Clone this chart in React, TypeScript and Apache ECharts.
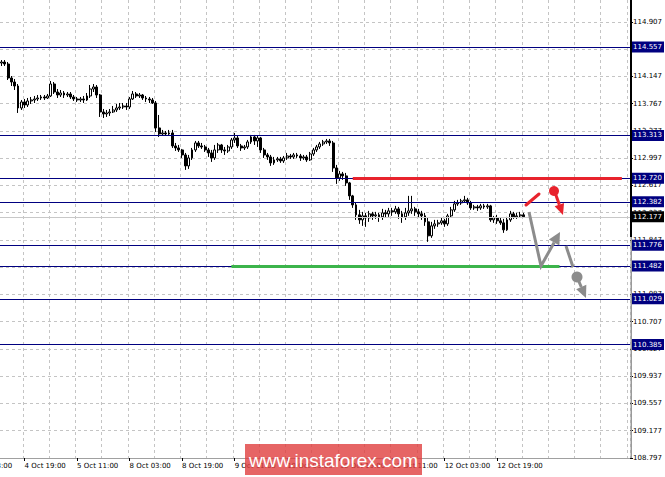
import React, { useEffect, useRef } from "react";
import * as echarts from "echarts";

// ---------- data ----------
const BASE = 108.797; // lowest labelled price tick
const STEP = 0.381875; // price distance between grid lines

const yTickLabels = [
  "108.797", "109.177", "109.557", "109.937", "110.327", "110.707", "111.087", "111.467",
  "111.847", "112.237", "112.617", "112.997", "113.377", "113.767", "114.147", "114.527", "114.907",
];

const xTickLabels = [
  "4 Oct 19:00", "5 Oct 11:00", "8 Oct 03:00", "8 Oct 19:00", "9 Oct 11:00",
  "10 Oct 03:00", "10 Oct 19:00", "11 Oct 11:00", "12 Oct 03:00", "12 Oct 19:00",
];

const levels = [114.557, 113.313, 112.72, 112.382, 111.776, 111.482, 111.029, 110.385];
const currentPrice = 112.177;
const resistance = 112.72;
const support = 111.482;

// [open, close, low, high]
const candles: number[][] = [
  [114.332, 114.346, 114.29, 114.374],
  [114.346, 114.318, 114.29, 114.374],
  [114.318, 114.122, 114.094, 114.346],
  [114.122, 114.066, 114.01, 114.15],
  [114.066, 114.01, 113.954, 114.108],
  [114.01, 113.702, 113.632, 114.038],
  [113.702, 113.786, 113.674, 113.814],
  [113.786, 113.744, 113.702, 113.828],
  [113.744, 113.8, 113.716, 113.842],
  [113.8, 113.814, 113.758, 113.856],
  [113.814, 113.828, 113.772, 113.87],
  [113.828, 113.842, 113.8, 113.884],
  [113.842, 113.856, 113.814, 113.884],
  [113.856, 113.842, 113.814, 113.884],
  [113.842, 113.87, 113.828, 113.898],
  [113.87, 114.038, 113.856, 114.08],
  [114.038, 113.926, 113.898, 114.066],
  [113.926, 113.884, 113.842, 113.968],
  [113.884, 113.912, 113.856, 113.954],
  [113.912, 113.884, 113.842, 113.94],
  [113.884, 113.898, 113.856, 113.926],
  [113.898, 113.856, 113.828, 113.926],
  [113.856, 113.828, 113.8, 113.884],
  [113.828, 113.814, 113.786, 113.856],
  [113.814, 113.828, 113.786, 113.856],
  [113.828, 113.814, 113.772, 113.87],
  [113.814, 113.87, 113.8, 113.912],
  [113.87, 113.968, 113.842, 114.024],
  [113.968, 113.996, 113.926, 114.038],
  [113.996, 113.884, 113.842, 114.024],
  [113.884, 113.646, 113.576, 113.898],
  [113.646, 113.618, 113.562, 113.688],
  [113.618, 113.632, 113.576, 113.674],
  [113.632, 113.646, 113.59, 113.688],
  [113.646, 113.674, 113.632, 113.73],
  [113.674, 113.702, 113.646, 113.758],
  [113.702, 113.716, 113.674, 113.772],
  [113.716, 113.73, 113.688, 113.772],
  [113.73, 113.716, 113.674, 113.772],
  [113.716, 113.828, 113.688, 113.856],
  [113.828, 113.898, 113.814, 113.94],
  [113.898, 113.87, 113.842, 113.926],
  [113.87, 113.884, 113.842, 113.912],
  [113.884, 113.842, 113.814, 113.898],
  [113.842, 113.828, 113.786, 113.87],
  [113.828, 113.814, 113.772, 113.856],
  [113.814, 113.772, 113.758, 113.842],
  [113.772, 113.422, 113.366, 113.8],
  [113.422, 113.338, 113.296, 113.604],
  [113.338, 113.352, 113.31, 113.394],
  [113.352, 113.338, 113.31, 113.38],
  [113.338, 113.352, 113.324, 113.394],
  [113.352, 113.17, 113.142, 113.394],
  [113.17, 113.142, 113.1, 113.212],
  [113.142, 113.114, 113.086, 113.184],
  [113.114, 113.044, 113.002, 113.128],
  [113.044, 112.89, 112.834, 113.072],
  [112.89, 113.002, 112.848, 113.044],
  [113.002, 113.114, 112.974, 113.142],
  [113.114, 113.212, 113.086, 113.24],
  [113.212, 113.17, 113.142, 113.24],
  [113.17, 113.156, 113.128, 113.212],
  [113.156, 113.114, 113.086, 113.184],
  [113.114, 113.072, 113.016, 113.142],
  [113.072, 113.002, 112.946, 113.114],
  [113.002, 113.114, 112.974, 113.184],
  [113.114, 113.184, 113.072, 113.212],
  [113.184, 113.114, 113.072, 113.198],
  [113.114, 113.1, 113.044, 113.156],
  [113.1, 113.156, 113.072, 113.184],
  [113.156, 113.254, 113.128, 113.282],
  [113.254, 113.282, 113.212, 113.352],
  [113.282, 113.17, 113.142, 113.31],
  [113.17, 113.142, 113.1, 113.198],
  [113.142, 113.156, 113.114, 113.184],
  [113.156, 113.226, 113.128, 113.254],
  [113.226, 113.296, 113.198, 113.324],
  [113.296, 113.24, 113.184, 113.324],
  [113.24, 113.282, 113.156, 113.31],
  [113.282, 113.114, 113.072, 113.296],
  [113.114, 113.044, 113.002, 113.142],
  [113.044, 113.016, 112.974, 113.072],
  [113.016, 112.932, 112.89, 113.044],
  [112.932, 112.974, 112.904, 113.016],
  [112.974, 112.988, 112.946, 113.016],
  [112.988, 112.96, 112.932, 113.016],
  [112.96, 113.002, 112.932, 113.03],
  [113.002, 113.03, 112.974, 113.072],
  [113.03, 113.016, 112.988, 113.058],
  [113.016, 113.044, 112.988, 113.072],
  [113.044, 113.03, 113.002, 113.072],
  [113.03, 113.002, 112.96, 113.058],
  [113.002, 113.016, 112.974, 113.044],
  [113.016, 112.974, 112.946, 113.044],
  [112.974, 113.058, 112.96, 113.086],
  [113.058, 113.114, 113.03, 113.142],
  [113.114, 113.156, 113.086, 113.184],
  [113.156, 113.198, 113.128, 113.226],
  [113.198, 113.226, 113.17, 113.254],
  [113.226, 113.24, 113.198, 113.268],
  [113.24, 113.212, 113.17, 113.268],
  [113.212, 112.862, 112.806, 113.24],
  [112.862, 112.722, 112.638, 112.904],
  [112.722, 112.778, 112.68, 112.82],
  [112.778, 112.75, 112.694, 112.806],
  [112.75, 112.652, 112.61, 112.792],
  [112.652, 112.47, 112.414, 112.666],
  [112.47, 112.344, 112.302, 112.484],
  [112.344, 112.204, 112.134, 112.372],
  [112.204, 112.134, 112.078, 112.274],
  [112.134, 112.19, 112.05, 112.246],
  [112.19, 112.162, 112.036, 112.232],
  [112.162, 112.218, 112.106, 112.26],
  [112.218, 112.19, 112.134, 112.246],
  [112.19, 112.204, 112.148, 112.246],
  [112.204, 112.176, 112.106, 112.232],
  [112.176, 112.232, 112.134, 112.288],
  [112.232, 112.218, 112.162, 112.274],
  [112.218, 112.26, 112.176, 112.302],
  [112.26, 112.246, 112.19, 112.302],
  [112.246, 112.288, 112.218, 112.33],
  [112.288, 112.218, 112.148, 112.316],
  [112.218, 112.176, 112.092, 112.26],
  [112.176, 112.232, 112.134, 112.302],
  [112.232, 112.26, 112.19, 112.47],
  [112.26, 112.288, 112.218, 112.47],
  [112.288, 112.246, 112.19, 112.316],
  [112.246, 112.218, 112.162, 112.288],
  [112.218, 112.19, 112.134, 112.26],
  [112.19, 112.106, 112.05, 112.232],
  [112.106, 111.91, 111.826, 112.162],
  [111.91, 112.05, 111.882, 112.106],
  [112.05, 112.078, 112.008, 112.134],
  [112.078, 112.092, 112.036, 112.134],
  [112.092, 112.12, 112.064, 112.162],
  [112.12, 112.078, 112.036, 112.148],
  [112.078, 112.19, 112.05, 112.218],
  [112.19, 112.274, 112.162, 112.316],
  [112.274, 112.358, 112.246, 112.4],
  [112.358, 112.372, 112.33, 112.414],
  [112.372, 112.4, 112.344, 112.428],
  [112.4, 112.414, 112.372, 112.47],
  [112.414, 112.372, 112.344, 112.442],
  [112.372, 112.302, 112.274, 112.4],
  [112.302, 112.316, 112.274, 112.344],
  [112.316, 112.302, 112.26, 112.344],
  [112.302, 112.33, 112.274, 112.358],
  [112.33, 112.316, 112.288, 112.358],
  [112.316, 112.33, 112.288, 112.358],
  [112.33, 112.134, 112.106, 112.344],
  [112.134, 112.162, 112.092, 112.19],
  [112.162, 112.12, 112.078, 112.204],
  [112.12, 112.092, 112.064, 112.162],
  [112.092, 111.994, 111.952, 112.148],
  [111.994, 112.134, 111.98, 112.176],
  [112.134, 112.218, 112.106, 112.26],
  [112.218, 112.176, 112.148, 112.246],
  [112.176, 112.19, 112.148, 112.232],
  [112.19, 112.204, 112.162, 112.246],
  [112.204, 112.177, 112.162, 112.232],
];

// ---------- layout / style constants ----------
const SLOTS = 192; // hourly slots across the plot (incl. empty right margin)
const RES_FROM = 107, RES_TO = 189; // slot span of the red resistance line
const SUP_FROM = 70, SUP_TO = 170; // slot span of the green support line
const FONT = '"DejaVu Sans", sans-serif';
const NAVY = "#000080";
const RED = "#e8232d";
const GRAY = "#8c8c8c";
const GRID = "#c4c4c4";

function buildCategories(): string[] {
  const out: string[] = [];
  let day = 4;
  let hour = 12;
  for (let i = 0; i < SLOTS; i++) {
    out.push(`${day} Oct ${String(hour).padStart(2, "0")}:00`);
    hour++;
    if (hour === 24) {
      hour = 0;
      day++;
      if (day === 6) day = 8;
      if (day === 13) day = 15;
    }
  }
  return out;
}

function head(fx: number, fy: number, tx: number, ty: number, len: number, half: number) {
  const dx = tx - fx, dy = ty - fy;
  const d = Math.hypot(dx, dy);
  const ux = dx / d, uy = dy / d;
  const bx = tx - ux * len, by = ty - uy * len;
  return {
    base: [bx, by],
    pts: [
      [tx, ty],
      [bx + uy * half, by - ux * half],
      [bx - uy * half, by + ux * half],
    ],
  };
}

export default function App() {
  const ref = useRef<HTMLDivElement>(null);

  useEffect(() => {
    if (!ref.current) return;
    const chart = echarts.init(ref.current, null, { renderer: "svg" });
    const categories = buildCategories();
    const showLabel = (_i: number, v: string) => xTickLabels.includes(v);

    const boxLabel = (text: string, bg: string) => ({
      show: true,
      position: "end",
      formatter: text,
      color: "#fff",
      backgroundColor: bg,
      fontFamily: FONT,
      fontSize: 7,
      lineHeight: 9,
      padding: [1, 2, 1, 2],
      distance: 1,
    });

    const levelItems = levels.map((lv) => ({
      yAxis: lv - BASE,
      lineStyle: { color: NAVY, width: 1, type: "solid" },
      label: boxLabel(lv.toFixed(3), NAVY),
    }));

    const priceItem = {
      yAxis: currentPrice - BASE,
      lineStyle: { color: "#c8c8c8", width: 1, type: "solid" },
      label: boxLabel(currentPrice.toFixed(3), "#000"),
    };

    const resItem = [
      { coord: [RES_FROM, resistance - BASE], lineStyle: { color: RED, width: 3, type: "solid" }, label: { show: false } },
      { coord: [RES_TO, resistance - BASE] },
    ];
    const supItem = [
      { coord: [SUP_FROM, support - BASE], lineStyle: { color: "#3cb44b", width: 3, type: "solid" }, label: { show: false } },
      { coord: [SUP_TO, support - BASE] },
    ];

    // forecast arrows (annotation drawing)
    const a1 = head(554.5, 191, 563, 215, 11, 5);
    const a2 = head(541, 266, 560, 232, 12, 6);
    const a3 = head(577, 277, 586, 298, 12, 5.5);

    const graphic: any[] = [
      { type: "rect", z: 50, shape: { x: 630, y: 0, width: 2, height: 237 }, style: { fill: "#000" } },
      { type: "rect", z: 50, shape: { x: 630.5, y: 237, width: 1.5, height: 221 }, style: { fill: "#9a9a9a" } },
      {
        type: "text", z: 50, x: -29, y: 462,
        style: { text: "4 Oct 03:00", fill: "#000", font: `7px ${FONT}`, align: "left", verticalAlign: "top" },
      },
      // red
      { type: "line", z: 60, shape: { x1: 526, y1: 205, x2: 539, y2: 194 }, style: { stroke: RED, lineWidth: 3, lineCap: "round" } },
      { type: "circle", z: 60, shape: { cx: 554, cy: 191, r: 5 }, style: { fill: RED } },
      { type: "line", z: 60, shape: { x1: 554.5, y1: 191, x2: a1.base[0], y2: a1.base[1] }, style: { stroke: RED, lineWidth: 3 } },
      { type: "polygon", z: 60, shape: { points: a1.pts }, style: { fill: RED } },
      // gray 1
      {
        type: "polyline", z: 60,
        shape: { points: [[529, 212], [541, 266], a2.base] },
        style: { stroke: GRAY, lineWidth: 3, fill: null, lineJoin: "miter" },
      },
      { type: "polygon", z: 60, shape: { points: a2.pts }, style: { fill: GRAY } },
      // gray 2
      { type: "line", z: 60, shape: { x1: 566, y1: 246, x2: 573, y2: 267 }, style: { stroke: GRAY, lineWidth: 3 } },
      { type: "circle", z: 60, shape: { cx: 577, cy: 277, r: 5.5 }, style: { fill: GRAY } },
      { type: "line", z: 60, shape: { x1: 577, y1: 277, x2: a3.base[0], y2: a3.base[1] }, style: { stroke: GRAY, lineWidth: 3 } },
      { type: "polygon", z: 60, shape: { points: a3.pts }, style: { fill: GRAY } },
      // watermark
      { type: "rect", z: 80, shape: { x: 245, y: 444, width: 177, height: 31 }, style: { fill: "rgba(224,62,62,0.8)" } },
      {
        type: "text", z: 81, x: 333.5, y: 460,
        style: { text: "www.instaforex.com", fill: "#fff", font: `19px "Liberation Sans", Arial, sans-serif`, align: "center", verticalAlign: "middle" },
      },
    ];

    const option: any = {
      animation: false,
      backgroundColor: "#fff",
      grid: { left: 0, right: 34, top: 0, bottom: 19, containLabel: false },
      xAxis: {
        type: "category",
        data: categories,
        boundaryGap: true,
        axisLine: { show: true, lineStyle: { color: "#a0a0a0", width: 1 } },
        axisTick: { show: true, alignWithLabel: true, length: 3, interval: showLabel, lineStyle: { color: "#000" } },
        axisLabel: { interval: showLabel, align: "left", margin: 4, fontSize: 7, fontFamily: FONT, color: "#000" },
        splitLine: {
          show: true,
          interval: (i: number) => i >= 7 && (i - 7) % 8 === 0,
          lineStyle: { color: GRID, type: [3, 3], width: 1 },
        },
      },
      yAxis: {
        type: "value",
        position: "right",
        min: 0,
        max: 6.418,
        interval: STEP,
        axisLine: { show: false },
        axisTick: { show: true, length: 3, lineStyle: { color: "#000" } },
        axisLabel: {
          color: "#000",
          fontSize: 7,
          fontFamily: FONT,
          margin: 3,
          showMinLabel: true,
          showMaxLabel: false,
          formatter: (v: number) => {
            const k = Math.round(v / STEP);
            return Math.abs(v - k * STEP) < 1e-4 && yTickLabels[k] ? yTickLabels[k] : "";
          },
        },
        splitLine: { show: true, showMaxLine: false, lineStyle: { color: GRID, type: [3, 3], width: 1 } },
      },
      graphic,
      series: [
        {
          type: "candlestick",
          data: candles.map(([o, c, l, h]) => [o - BASE, c - BASE, l - BASE, h - BASE]),
          barWidth: 2.4,
          itemStyle: { color: "#fff", color0: "#000", borderColor: "#000", borderColor0: "#000", borderWidth: 1 },
          markLine: {
            silent: true,
            symbol: ["none", "none"],
            animation: false,
            data: [...levelItems, priceItem, resItem, supItem],
          },
        },
      ],
    };
    chart.setOption(option);
    return () => chart.dispose();
  }, []);

  return (
    <div
      ref={ref}
      style={{ position: "fixed", left: 0, top: 0, width: 665, height: 477, background: "#fff" }}
    />
  );
}
